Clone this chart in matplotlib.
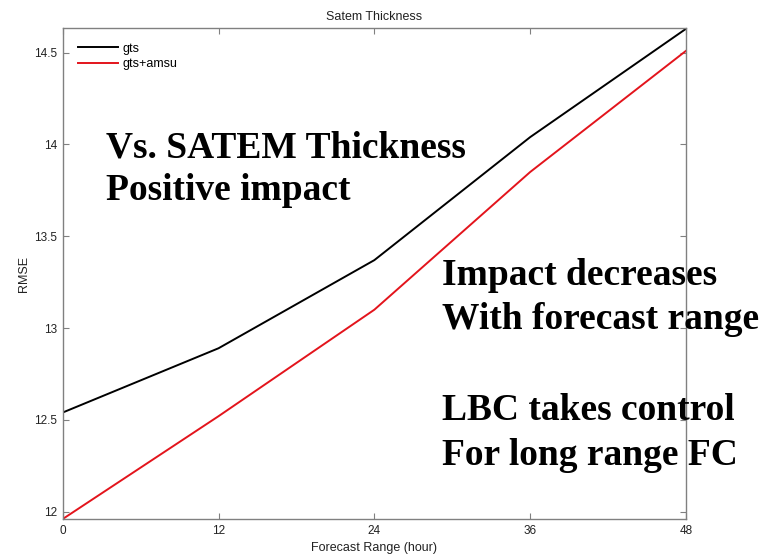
import matplotlib
matplotlib.use('Agg')
import matplotlib.pyplot as plt

# forecast range (hour) and RMSE of each run
hours = [0, 12, 24, 36, 48]
gts = [12.54, 12.89, 13.37, 14.04, 14.63]
gts_amsu = [11.96, 12.52, 13.10, 13.85, 14.51]

xticks = [0, 12, 24, 36, 48]
yticks = [12, 12.5, 13, 13.5, 14, 14.5]

plt.rcParams['font.family'] = ['Liberation Sans', 'DejaVu Sans']

fig = plt.figure(figsize=(7.73, 5.56), dpi=100)
ax = fig.add_axes([0.0811, 0.0665, 0.8064, 0.8831])

ax.plot(hours, gts, color='black', lw=1.4, label='gts')
ax.plot(hours, gts_amsu, color='#e3141c', lw=1.4, label='gts+amsu')

ax.set_xlim(0, 48)
ax.set_ylim(11.96, 14.634)
ax.set_xticks(xticks)
ax.set_yticks(yticks)
ax.set_yticklabels(['12', '12.5', '13', '13.5', '14', '14.5'])
ax.tick_params(direction='in', top=True, right=True, length=4, width=0.8,
               color='#808080', labelsize=8.5, labelcolor='#222222', pad=4)
for s in ax.spines.values():
    s.set_color('#808080')
    s.set_linewidth(1.0)

ax.set_title('Satem Thickness', fontsize=9, color='#222222', pad=6)
ax.set_xlabel('Forecast Range (hour)', fontsize=9, color='#222222', labelpad=4)
ax.set_ylabel('RMSE', fontsize=9, color='#222222', labelpad=3)

leg = ax.legend(loc='upper left', fontsize=9, frameon=False, handlelength=3.2,
                handletextpad=0.35, borderaxespad=0, labelspacing=0.28,
                bbox_to_anchor=(0.0165, 0.98))

# big annotation text
big = dict(family=['Liberation Serif', 'DejaVu Serif'], fontweight='bold',
           fontsize=27, color='black', va='baseline', ha='left')
fig.text(106 / 773, 1 - 157 / 556, 'Vs. SATEM Thickness', **big)
fig.text(106 / 773, 1 - 200 / 556, 'Positive impact', **big)
fig.text(442 / 773, 1 - 285 / 556, 'Impact decreases', **big)
fig.text(442 / 773, 1 - 329 / 556, 'With forecast range', **big)
fig.text(442 / 773, 1 - 420 / 556, 'LBC takes control', **big)
fig.text(442 / 773, 1 - 465 / 556, 'For long range FC', **big)

fig.savefig('out.png', dpi=100)
